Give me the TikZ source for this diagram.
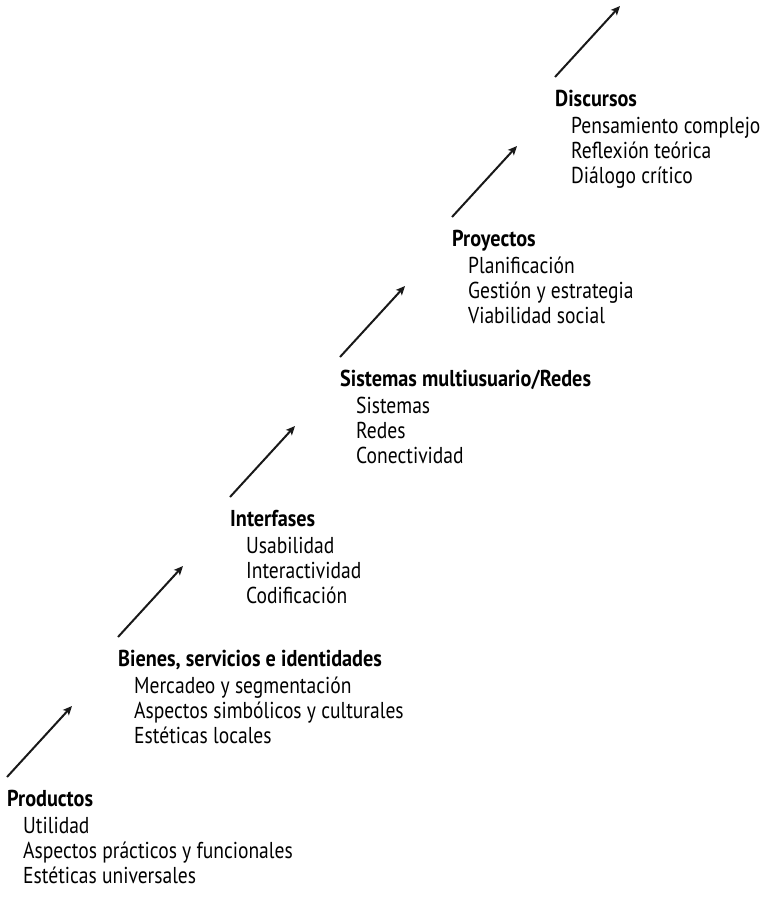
\documentclass[tikz,border=0pt]{standalone}
\usepackage{fontspec}
\setmainfont{PT Sans}[FakeStretch=0.85,BoldFeatures={FakeStretch=0.88}]
\usetikzlibrary{arrows.meta}

\begin{document}
\begin{tikzpicture}[x=1pt,y=-1pt,>={Stealth[length=9pt,width=8pt,inset=2pt]}]
    \tikzstyle{heading}=[anchor=base west,inner sep=0pt,font=\bfseries\fontsize{23}{26}\selectfont]
    \tikzstyle{entry}=[anchor=base west,inner sep=0pt,font=\fontsize{23}{26}\selectfont]
    \tikzstyle{stair}=[->,line width=2pt,black!90]
    \useasboundingbox (0,0) rectangle (765,897);

    % one step for each level, going up to the right
    \foreach \n/\x/\t/\a/\b/\c [count=\i from 0] in {
        P/7/Productos/Utilidad/Aspectos prácticos y funcionales/Estéticas universales,
        B/118/{Bienes, servicios e identidades}/Mercadeo y segmentación/Aspectos simbólicos y culturales/Estéticas locales,
        I/230/Interfases/Usabilidad/Interactividad/Codificación,
        S/340/{Sistemas multiusuario/Redes}/Sistemas/Redes/Conectividad,
        Y/452/Proyectos/Planificación/Gestión y estrategia/Viabilidad social,
        D/555/Discursos/Pensamiento complejo/Reflexión teórica/Diálogo crítico}
    {
    \node[heading] (H-\n) at (\x,{806-140*\i}) {\t};
    \node[entry] (T-\n-1) at ([shift={(16,27)}]H-\n.base west) {\a};
    \node[entry] (T-\n-2) at ([shift={(0,25)}]T-\n-1.base west) {\b};
    \node[entry] (T-\n-3) at ([shift={(0,25)}]T-\n-2.base west) {\c};

    % arrow above the heading
    \coordinate (A-\n) at ([shift={(0,-29)}]H-\n.base west);
    \coordinate (Z-\n) at ([shift={(65,-71)}]A-\n);
    \draw[stair] (A-\n) -- (Z-\n);
    }
\end{tikzpicture}
\end{document}
